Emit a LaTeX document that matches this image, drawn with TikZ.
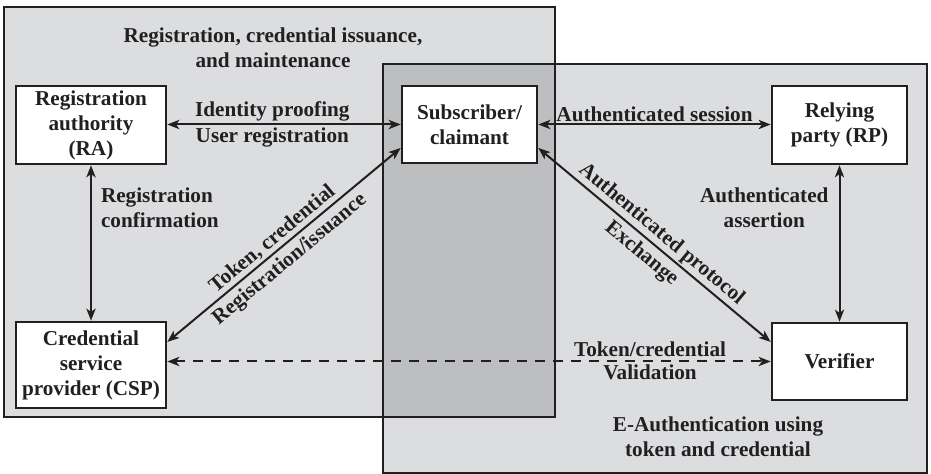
\documentclass[tikz,border=0pt]{standalone}
\usepackage{fontspec}
\setmainfont{Liberation Serif}
\usetikzlibrary{arrows,arrows.meta,calc}
\definecolor{areagray}{HTML}{DCDDDF}
\definecolor{overlapgray}{HTML}{BDBEC0}
\definecolor{inkblack}{HTML}{231F20}
\tikzset{>={Stealth[length=6pt,width=4.6pt,inset=1.6pt]}}
\tikzstyle{party}=[rectangle,draw=inkblack,fill=white,line width=1.3pt,align=center,inner sep=1pt,text=inkblack]
\tikzstyle{flow}=[<->,draw=inkblack,line width=1pt]
\tikzstyle{caption}=[align=center,text=inkblack,inner sep=1pt]

\begin{document}
\begin{tikzpicture}[x=0.5pt,y=-0.5pt,font=\fontsize{10.6}{12.5}\selectfont\bfseries]
	\useasboundingbox (0,0) rectangle (931,474);
	% the two areas and where they overlap
	\fill[areagray] (4,7) rectangle (555,417);
	\fill[areagray] (383,64) rectangle (927,473);
	\fill[overlapgray] (383,64) rectangle (555,417);
	\draw[inkblack,line width=1.4pt] (4,7) rectangle (555,417);
	\draw[inkblack,line width=1.4pt] (383,64) rectangle (927,473);
	
	\node[caption] (issuelabel) at (273,48) {Registration, credential issuance,\\and maintenance};
	\node[caption] (authlabel) at (718,437) {E-Authentication using\\token and credential};
	
	\node[party, minimum width=75pt, minimum height=39pt] (ra) at (91,125) {Registration\\authority\\(RA)};
	\node[party, minimum width=67.5pt, minimum height=38.5pt] (sub) at (469.5,124.5) {Subscriber/\\claimant};
	\node[party, minimum width=67.5pt, minimum height=39pt] (rp) at (839.5,125) {Relying\\party (RP)};
	\node[party, minimum width=75pt, minimum height=43pt] (csp) at (91,365) {Credential\\service\\provider (CSP)};
	\node[party, minimum width=67.5pt, minimum height=38.5pt] (verifier) at (839.5,361.5) {Verifier};
	
	\draw[flow] (ra.east |- sub.west) -- (sub.west)
		node[caption, above, pos=0.45] {Identity proofing}
		node[caption, below, pos=0.45] {User registration};
	\draw[flow] (sub.east) -- (sub.east -| rp.west)
		node[caption, above, pos=0.5] {Authenticated session};
	\draw[flow] (ra.south) -- (csp.north)
		node[caption, align=left, anchor=west, xshift=3.5pt, pos=0.27] {Registration\\confirmation};
	\draw[flow] (rp.south) -- (verifier.north)
		node[caption, anchor=east, xshift=-4pt, pos=0.27] {Authenticated\\assertion};
	\draw[flow] ([yshift=11.5pt]csp.east) -- ([yshift=-11.75pt]sub.west)
		node[caption, sloped, above, pos=0.483] {Token, credential}
		node[caption, sloped, below, inner sep=2.2pt, pos=0.484] {Registration/issuance};
	\draw[flow] ([yshift=-11.75pt]sub.east) -- ([yshift=9.75pt]verifier.west)
		node[caption, sloped, above, pos=0.495] {Authenticated protocol}
		node[caption, sloped, below, inner sep=2.2pt, pos=0.485] {Exchange};
	\draw[flow, dash pattern=on 5pt off 4pt] (verifier.west -| csp.east) -- (verifier.west)
		node[caption, above, inner sep=1.8pt, pos=0.8] {Token/credential}
		node[caption, below, pos=0.8] {Validation};
\end{tikzpicture}
\end{document}
